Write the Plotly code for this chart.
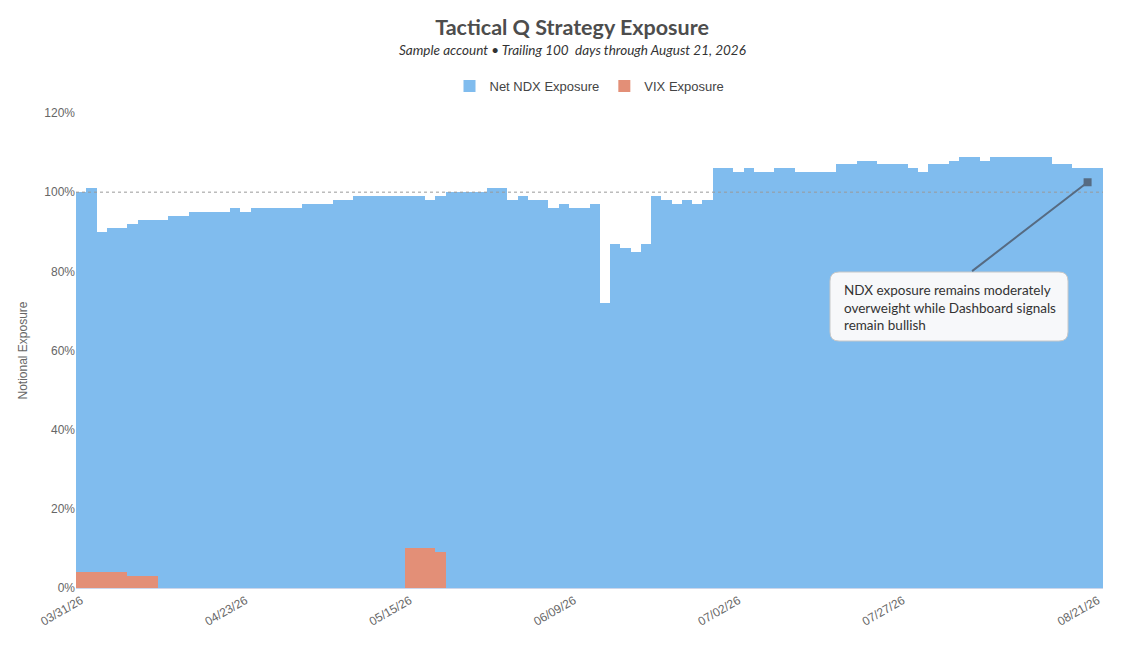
import pandas as pd
import plotly.graph_objects as go

# ---- data ----
holidays = ["2026-04-03", "2026-05-25", "2026-06-19", "2026-07-03"]
dates = [d.strftime("%m/%d/%y") for d in pd.bdate_range("2026-03-31", "2026-08-21", freq="C", holidays=holidays)]

ndx_exposure = [100, 101, 90, 91, 91, 92, 93, 93, 93, 94,
                94, 95, 95, 95, 95, 96, 95, 96, 96, 96,
                96, 96, 97, 97, 97, 98, 98, 99, 99, 99,
                99, 99, 99, 99, 98, 99, 100, 100, 100, 100,
                101, 101, 98, 99, 98, 98, 96, 97, 96, 96,
                97, 72, 87, 86, 85, 87, 99, 98, 97, 98,
                97, 98, 106, 106, 105, 106, 105, 105, 106, 106,
                105, 105, 105, 105, 107, 107, 108, 108, 107, 107,
                107, 106, 105, 107, 107, 108, 109, 109, 108, 109,
                109, 109, 109, 109, 109, 107, 107, 106, 106, 106]

vix_exposure = [4, 4, 4, 4, 4, 3, 3, 3, 0, 0,
                0, 0, 0, 0, 0, 0, 0, 0, 0, 0,
                0, 0, 0, 0, 0, 0, 0, 0, 0, 0,
                0, 0, 10, 10, 10, 9, 0, 0, 0, 0,
                0, 0, 0, 0, 0, 0, 0, 0, 0, 0,
                0, 0, 0, 0, 0, 0, 0, 0, 0, 0,
                0, 0, 0, 0, 0, 0, 0, 0, 0, 0,
                0, 0, 0, 0, 0, 0, 0, 0, 0, 0,
                0, 0, 0, 0, 0, 0, 0, 0, 0, 0,
                0, 0, 0, 0, 0, 0, 0, 0, 0, 0]

tick_labels = ["03/31/26", "04/23/26", "05/15/26", "06/09/26", "07/02/26", "07/27/26", "08/21/26"]

annotation_date = "08/20/26"
annotation_value = 102.5
annotation_text = "NDX exposure remains moderately<br>overweight while Dashboard signals<br>remain bullish"

# ---- layout geometry ----
W, H = 1133, 656
ML, MR, MT, MB = 76, 30, 113, 68
PW, PH = W - ML - MR, H - MT - MB


def px_to_paper(x, y):
    return (x - ML) / PW, (H - MB - y) / PH


def rounded_rect(x0, y0, x1, y1, r):
    rx, ry = r / PW, r / PH
    a0, b1 = px_to_paper(x0, y0)
    a1, b0 = px_to_paper(x1, y1)
    return (f"M {a0+rx},{b1} L {a1-rx},{b1} Q {a1},{b1} {a1},{b1-ry} "
            f"L {a1},{b0+ry} Q {a1},{b0} {a1-rx},{b0} L {a0+rx},{b0} "
            f"Q {a0},{b0} {a0},{b0+ry} L {a0},{b1-ry} Q {a0},{b1} {a0+rx},{b1} Z")


AX_FONT = "Liberation Sans, Arial, sans-serif"
TXT_FONT = "Lato, Open Sans, sans-serif"

fig = go.Figure()
fig.add_trace(go.Bar(x=dates, y=ndx_exposure, name="Net NDX Exposure",
                     marker=dict(color="#80bcee", line=dict(width=0))))
fig.add_trace(go.Bar(x=dates, y=vix_exposure, name="VIX Exposure",
                     marker=dict(color="#e38f77", line=dict(width=0))))

fig.update_layout(
    width=W, height=H,
    margin=dict(l=ML, r=MR, t=MT, b=MB),
    paper_bgcolor="white", plot_bgcolor="white",
    barmode="overlay", bargap=0,
    title=dict(text="<b>Tactical Q Strategy Exposure</b>", x=572 / W, xanchor="center",
               xref="container", y=1 - 27 / H, yanchor="middle", yref="container",
               font=dict(family=TXT_FONT, size=21.5, color="#4d4d4d")),
    legend=dict(orientation="h", x=0.5, xanchor="center", y=px_to_paper(0, 86)[1], yanchor="middle",
                font=dict(family=AX_FONT, size=13, color="#444444"), itemwidth=30,
                bgcolor="rgba(0,0,0,0)"),
    showlegend=True,
    xaxis=dict(type="category", tickmode="array", tickvals=tick_labels, ticktext=tick_labels,
               tickangle=-30, showgrid=False, showline=True, linecolor="#ccd6eb", linewidth=1,
               ticks="", tickfont=dict(family=AX_FONT, size=12, color="#666666"),
               range=[-0.5, len(dates) - 0.5], fixedrange=True),
    yaxis=dict(range=[0, 120], dtick=20, ticksuffix="%", showgrid=False, zeroline=False,
               tickfont=dict(family=AX_FONT, size=12, color="#666666"),
               title=dict(text="Notional Exposure", standoff=14,
                          font=dict(family=AX_FONT, size=12, color="#666666"))),
)

# 100% reference line
fig.add_shape(type="line", xref="paper", x0=0, x1=1, yref="y", y0=100, y1=100,
              line=dict(color="#999999", width=1, dash="dot"), layer="above")

# annotation box (rounded)
fig.add_shape(type="path", xref="paper", yref="paper",
              path=rounded_rect(830, 272, 1068, 341, 9),
              fillcolor="#f7f8fa", line=dict(color="#c8c8c8", width=1), layer="above")

# arrow
fig.add_annotation(x=annotation_date, y=annotation_value, xref="x", yref="y", text="",
                   showarrow=True, ax=-117, ay=90, arrowhead=7, arrowsize=1,
                   arrowwidth=2, arrowcolor="#566b82", standoff=0, startstandoff=0)

# annotation text
tx, ty = px_to_paper(842, 280)
fig.add_annotation(x=tx, y=ty, xref="paper", yref="paper", xanchor="left", yanchor="top",
                   text=annotation_text, showarrow=False, align="left",
                   font=dict(family=TXT_FONT, size=13.5, color="#333333"))

# subtitle
sx, sy = px_to_paper(572, 50)
fig.add_annotation(x=sx, y=sy, xref="paper", yref="paper", xanchor="center", yanchor="middle",
                   text="<i>Sample account \u2022 Trailing 100\u00a0 days through August 21, 2026</i>",
                   showarrow=False, font=dict(family=TXT_FONT, size=13.5, color="#333333"))

fig.write_html("out.html", config={"displayModeBar": False},
               post_script="document.body.style.margin='0';")
